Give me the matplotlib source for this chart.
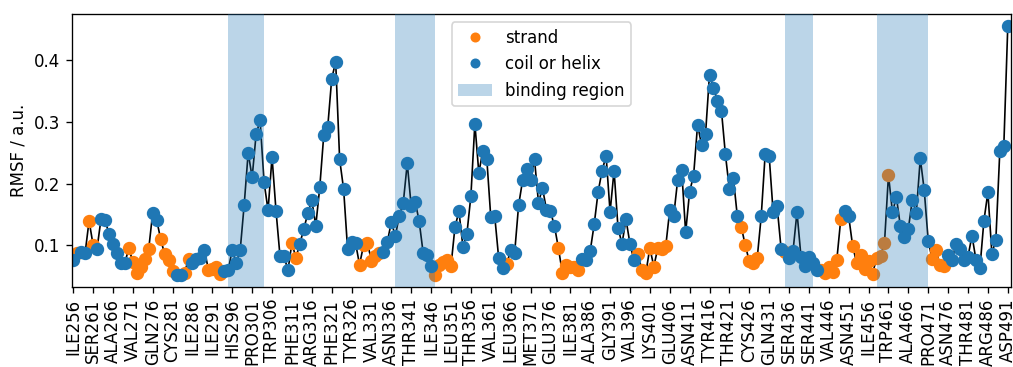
import matplotlib
matplotlib.use("Agg")
import matplotlib.pyplot as plt
from matplotlib.lines import Line2D
from matplotlib.patches import Patch
import numpy as np

# RMSF par résidu (ILE256 -> ASP491)
first_res = 256
rmsf = [
    0.077, 0.088, 0.090, 0.088, 0.140, 0.101, 0.095, 0.143, 0.141, 0.119,
    0.103, 0.088, 0.071, 0.072, 0.096, 0.073, 0.056, 0.066, 0.078, 0.095,
    0.153, 0.141, 0.110, 0.086, 0.076, 0.059, 0.053, 0.053, 0.056, 0.078,
    0.072, 0.078, 0.080, 0.093, 0.061, 0.062, 0.066, 0.054, 0.058, 0.061,
    0.093, 0.071, 0.093, 0.166, 0.250, 0.210, 0.280, 0.302, 0.202, 0.157,
    0.243, 0.156, 0.083, 0.083, 0.060, 0.104, 0.080, 0.103, 0.127, 0.152,
    0.173, 0.132, 0.194, 0.278, 0.291, 0.369, 0.397, 0.239, 0.191, 0.094,
    0.105, 0.104, 0.069, 0.100, 0.104, 0.075, 0.083, 0.088, 0.089, 0.106,
    0.138, 0.115, 0.148, 0.169, 0.233, 0.163, 0.171, 0.139, 0.088, 0.085,
    0.067, 0.053, 0.068, 0.073, 0.076, 0.067, 0.130, 0.155, 0.098, 0.119,
    0.180, 0.297, 0.217, 0.253, 0.240, 0.146, 0.147, 0.079, 0.064, 0.070,
    0.092, 0.088, 0.165, 0.205, 0.223, 0.206, 0.239, 0.169, 0.193, 0.158,
    0.155, 0.132, 0.096, 0.056, 0.069, 0.066, 0.066, 0.061, 0.078, 0.076,
    0.091, 0.134, 0.187, 0.221, 0.245, 0.154, 0.221, 0.128, 0.103, 0.142,
    0.103, 0.076, 0.087, 0.060, 0.056, 0.096, 0.066, 0.096, 0.094, 0.099,
    0.157, 0.148, 0.206, 0.222, 0.121, 0.187, 0.213, 0.295, 0.263, 0.280,
    0.376, 0.355, 0.334, 0.318, 0.247, 0.191, 0.209, 0.147, 0.130, 0.100,
    0.075, 0.071, 0.080, 0.147, 0.248, 0.245, 0.154, 0.163, 0.095, 0.089,
    0.080, 0.091, 0.154, 0.082, 0.067, 0.082, 0.072, 0.061, 0.060, 0.055,
    0.066, 0.057, 0.076, 0.142, 0.155, 0.147, 0.099, 0.072, 0.084, 0.062,
    0.075, 0.054, 0.080, 0.083, 0.104, 0.214, 0.154, 0.178, 0.131, 0.113,
    0.127, 0.174, 0.153, 0.241, 0.189, 0.107, 0.078, 0.092, 0.068, 0.067,
    0.085, 0.077, 0.103, 0.095, 0.076, 0.082, 0.116, 0.077, 0.064, 0.140,
    0.186, 0.087, 0.109, 0.253, 0.260, 0.454,
]

# S = strand, C = coil ou hélice
structure = (
    "CSCCSSCCCC" "CCCCSSSSSS" "CCSSSSCCSS" "CCCCSSSSCC" "CCCCCCCCCC"
    "CCCCCSSCCC" "CCCCCCCCCC" "CCSSSSSSCC" "CCCCCCCCCC" "CSSSSSCCCC"
    "CCCCCCCCCS" "CCCCCCCCCC" "CCSSSSSSCC" "CCCCCCCCCC" "CCSSSSSSSS"
    "CCCCCCCCCC" "CCCCCCCCSS" "SSSCCCCCCS" "CCCCCCCCSS" "SSSSCCSSSS"
    "SSSSSSCCCC" "CCCCCCSSSS" "CCCCCCCCCC" "CCCCCC"
)

tick_labels = ["ILE256", "SER261", "ALA266", "VAL271", "GLN276", "CYS281",
               "ILE286", "ILE291", "HIS296", "PRO301", "TRP306", "PHE311",
               "ARG316", "PHE321", "TYR326", "VAL331", "ASN336", "THR341",
               "ILE346", "LEU351", "THR356", "VAL361", "LEU366", "MET371",
               "GLU376", "ILE381", "ALA386", "GLY391", "VAL396", "LYS401",
               "GLU406", "ASN411", "TYR416", "THR421", "CYS426", "GLN431",
               "SER436", "SER441", "VAL446", "ASN451", "ILE456", "TRP461",
               "ALA466", "PRO471", "ASN476", "THR481", "ARG486", "ASP491"]

# zones de liaison (numéros de résidus)
binding_start = [295, 337, 435, 458]
binding_end = [304, 347, 442, 471]

rmsf = np.array(rmsf)
x = np.arange(len(rmsf))
strand = np.array([c == "S" for c in structure])

fig = plt.figure(figsize=(1014 / 120, 367 / 120), dpi=120)
ax = fig.add_axes([0.071, 0.218, 0.926, 0.744])

ax.plot(x, rmsf, color="black", lw=1, zorder=1)
ax.plot(x[strand], rmsf[strand], "o", color="tab:orange", ms=7, zorder=2)
ax.plot(x[~strand], rmsf[~strand], "o", color="tab:blue", ms=7, zorder=2)

for a, b in zip(binding_start, binding_end):
    ax.axvspan(a - first_res, b - first_res, color="tab:blue", alpha=0.3,
               lw=0, zorder=3)

ax.set_xticks(np.arange(0, len(rmsf), 5))
ax.set_xticklabels(tick_labels, rotation=90)
ax.set_xlim(-0.3, len(rmsf) - 0.2)
ax.set_yticks([0.1, 0.2, 0.3, 0.4])
ax.set_ylabel("RMSF / a.u.")

handles = [
    Line2D([], [], ls="", marker="o", color="tab:orange", ms=5),
    Line2D([], [], ls="", marker="o", color="tab:blue", ms=5),
    Patch(facecolor="tab:blue", alpha=0.3),
]
ax.legend(handles, ["strand", "coil or helix", "binding region"],
          loc="upper center")

fig.savefig("out.png", dpi=120)
